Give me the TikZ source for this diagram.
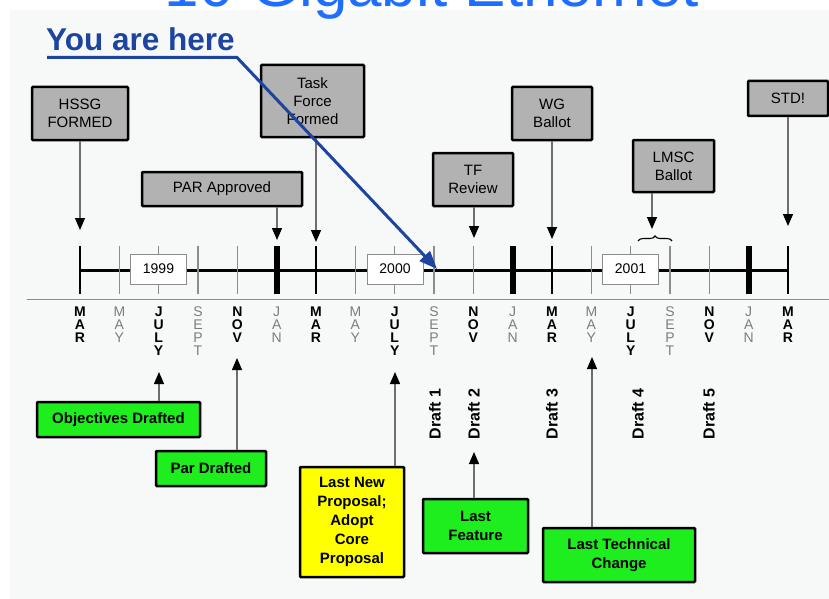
\documentclass[tikz,border=0pt]{standalone}
\usepackage{fontspec}
\setmainfont{Liberation Sans}
\usetikzlibrary{arrows.meta,decorations.pathreplacing,calc}
\definecolor{panel}{RGB}{246,249,248}
\definecolor{boxgrey}{RGB}{178,178,178}
\definecolor{boxgreen}{RGB}{30,238,30}
\definecolor{boxyellow}{RGB}{255,255,0}
\definecolor{herblue}{RGB}{28,68,160}
\definecolor{titleblue}{RGB}{30,110,255}
\definecolor{tickgrey}{RGB}{140,140,140}
\definecolor{monthgrey}{RGB}{125,125,125}
\definecolor{arrowgrey}{RGB}{110,110,110}
\tikzset{
  topbox/.style={draw=black, line width=2.5pt, fill=boxgrey, align=center, inner sep=0pt,
    font=\fontsize{15}{18}\selectfont, rounded corners=1pt},
  lowbox/.style={draw=black, line width=2.5pt, align=center, inner sep=0pt,
    font=\bfseries\fontsize{15}{19}\selectfont, rounded corners=1pt},
  yearbox/.style={draw=tickgrey, line width=0.8pt, fill=white, inner sep=0pt,
    minimum width=56pt, minimum height=30pt, font=\fontsize{14}{14}\selectfont},
  evarrow/.style={draw=arrowgrey, line width=1.3pt, -{Triangle[width=10pt,length=12pt,color=black]}},
  monthbold/.style={anchor=north, align=center, inner sep=0pt, font=\bfseries\fontsize{14}{13}\selectfont},
  monthlight/.style={anchor=north, align=center, inner sep=0pt, text=monthgrey, font=\fontsize{14}{13}\selectfont},
  draftlbl/.style={rotate=90, inner sep=0pt, font=\bfseries\fontsize{16}{16}\selectfont},
}
\begin{document}
\begin{tikzpicture}[x=1pt,y=-1pt]
\useasboundingbox (0,0) rectangle (829,599);
\clip (0,0) rectangle (829,599);
\fill[white] (0,0) rectangle (829,599);
\fill[panel] (10,10) rectangle (829,599);
% title (cut off at top)
\node[anchor=base, inner sep=0pt, text=titleblue, font=\fontsize{62}{62}\selectfont] (title) at (432,7) {10 Gigabit Ethernet};

% separator rule
\draw[tickgrey, line width=1.6pt] (27,299.5) -- (829,299.5);

% main time line
\draw[black, line width=3pt] (80,270) -- (788,270);
% ticks
\foreach \i in {0,...,18} {
  \pgfmathsetmacro{\xx}{80+39.333*\i}
  \pgfmathtruncatemacro{\m}{mod(\i,6)}
  \ifnum\m=0
    \draw[black, line width=1.8pt] (\xx,246) -- (\xx,294);
  \else\ifnum\m=5
    \draw[black, line width=6pt] (\xx,246) -- (\xx,294);
  \else
    \draw[tickgrey, line width=1.1pt] (\xx,246) -- (\xx,294);
  \fi\fi
}
% year boxes
\node[yearbox] (y1999) at (158.5,269) {1999};
\node[yearbox] (y2000) at (395,269) {2000};
\node[yearbox] (y2001) at (630.5,269) {2001};

% month labels
\foreach \i/\t/\s in {0/{M\\A\\R}/monthbold, 1/{M\\A\\Y}/monthlight, 2/{J\\U\\L\\Y}/monthbold,
  3/{S\\E\\P\\T}/monthlight, 4/{N\\O\\V}/monthbold, 5/{J\\A\\N}/monthlight,
  6/{M\\A\\R}/monthbold, 7/{M\\A\\Y}/monthlight, 8/{J\\U\\L\\Y}/monthbold,
  9/{S\\E\\P\\T}/monthlight, 10/{N\\O\\V}/monthbold, 11/{J\\A\\N}/monthlight,
  12/{M\\A\\R}/monthbold, 13/{M\\A\\Y}/monthlight, 14/{J\\U\\L\\Y}/monthbold,
  15/{S\\E\\P\\T}/monthlight, 16/{N\\O\\V}/monthbold, 17/{J\\A\\N}/monthlight,
  18/{M\\A\\R}/monthbold} {
  \pgfmathsetmacro{\xx}{80+39.333*\i}
  \node[\s] (m\i) at (\xx,307) {\t};
}

% top event boxes
\node[topbox, minimum width=96pt, minimum height=53pt] (hssg) at (80,113.5) {HSSG\\FORMED};
\node[topbox, minimum width=103pt, minimum height=72pt] (tf) at (312.5,101) {Task\\Force\\Formed};
\node[topbox, minimum width=160pt, minimum height=34pt] (par) at (222,189) {PAR Approved};
\node[topbox, minimum width=80pt, minimum height=53pt] (tfr) at (473,179.5) {TF\\Review};
\node[topbox, minimum width=80pt, minimum height=53pt] (wg) at (552,113.5) {WG\\Ballot};
\node[topbox, minimum width=81pt, minimum height=52pt] (lmsc) at (673.5,166) {LMSC\\Ballot};
\node[topbox, minimum width=80pt, minimum height=35pt] (std) at (788,98.5) {STD!};

% tips of top arrows
\coordinate (thssg) at (80,230);
\coordinate (ttf) at (316,242);
\coordinate (tpar) at (277,240);
\coordinate (ttfr) at (474,238);
\coordinate (twg) at (552,239);
\coordinate (tlmsc) at (652,229);
\coordinate (tstd) at (788,226);
\draw[evarrow] (hssg.south) -- (thssg);
\draw[evarrow] (tf.south -| ttf) -- (ttf);
\draw[evarrow] (par.south -| tpar) -- (tpar);
\draw[evarrow] (tfr.south -| ttfr) -- (ttfr);
\draw[evarrow] (wg.south) -- (twg);
\draw[evarrow] (lmsc.south -| tlmsc) -- (tlmsc);
\draw[evarrow] (std.south) -- (tstd);
% brace
\coordinate (bl) at (638,241);
\coordinate (br) at (672,241);
\draw[black, line width=1.1pt, decorate, decoration={brace, amplitude=5pt}] (bl) -- (br);

% bottom boxes
\node[lowbox, fill=boxgreen, minimum width=163pt, minimum height=35pt] (obj) at (118.5,419.5) {Objectives Drafted};
\node[lowbox, fill=boxgreen, minimum width=110pt, minimum height=35pt] (pard) at (211,468.5) {Par Drafted};
\node[lowbox, fill=boxyellow, minimum width=104pt, minimum height=110pt] (lnp) at (352,522) {Last New\\Proposal;\\Adopt\\Core\\Proposal};
\node[lowbox, fill=boxgreen, minimum width=105pt, minimum height=54pt] (lf) at (475.5,526) {Last\\Feature};
\node[lowbox, fill=boxgreen, minimum width=152pt, minimum height=54pt] (ltc) at (619,555) {Last Technical\\Change};

\coordinate (tobj) at (159,372);
\coordinate (tpard) at (237,358);
\coordinate (tlnp) at (395,372);
\coordinate (tlf) at (474,452);
\coordinate (tltc) at (592,357);
\draw[evarrow] (obj.north -| tobj) -- (tobj);
\draw[evarrow] (pard.north -| tpard) -- (tpard);
\draw[evarrow] (lnp.north -| tlnp) -- (tlnp);
\draw[evarrow] (lf.north -| tlf) -- (tlf);
\draw[evarrow] (ltc.north -| tltc) -- (tltc);

% drafts
\node[draftlbl] (d1) at (435,414) {Draft 1};
\node[draftlbl] (d2) at (474,414) {Draft 2};
\node[draftlbl] (d3) at (552,414) {Draft 3};
\node[draftlbl] (d4) at (638,414) {Draft 4};
\node[draftlbl] (d5) at (709,414) {Draft 5};

% You are here
\node[anchor=base west, inner sep=0pt, text=herblue, font=\bfseries\fontsize{31.5}{31.5}\selectfont] (here) at (46,51) {You are here};
\coordinate (hu) at (47,57.5);
\coordinate (hk) at (237,57.5);
\coordinate (htip) at (437,269);
\draw[herblue, line width=3pt, -{Triangle[width=14pt,length=18pt]}] (hu) -- (hk) -- (htip);
\end{tikzpicture}
\end{document}
